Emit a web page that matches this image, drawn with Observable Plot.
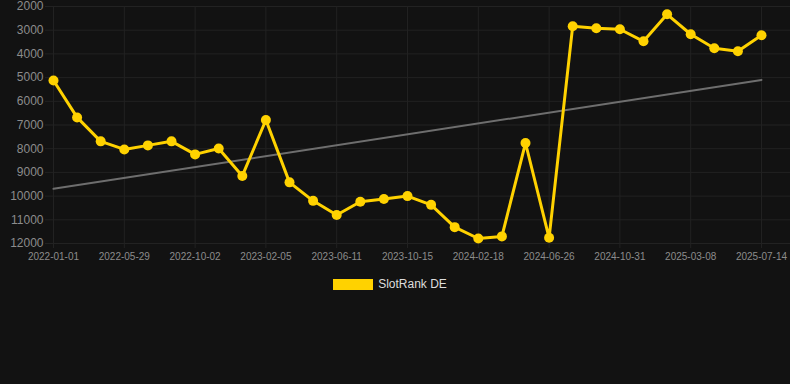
<!DOCTYPE html>
<html><head><meta charset="utf-8">
<script src="https://cdn.jsdelivr.net/npm/d3@7"></script>
<script src="https://cdn.jsdelivr.net/npm/@observablehq/plot@0.6"></script>
<style>
html,body{margin:0;padding:0;background:#121212;}
body{width:790px;height:384px;overflow:hidden;font-family:"Liberation Sans",Arial,sans-serif;}
#legend{display:flex;justify-content:center;align-items:center;gap:5px;margin-top:12px;height:14px;color:#dddddd;font-size:12px;padding-right:10px;}
.sw{display:inline-block;width:40px;height:11px;background:#FFD200;}
</style></head>
<body>
<div id="chart"></div>
<div id="legend"><span class="sw"></span><span>SlotRank DE</span></div>
<script>
const tickLabels = ["2022-01-01","2022-05-29","2022-10-02","2023-02-05","2023-06-11","2023-10-15","2024-02-18","2024-06-26","2024-10-31","2025-03-08","2025-07-14"];
const yTicks = [2000,3000,4000,5000,6000,7000,8000,9000,10000,11000,12000];
const seriesName = "SlotRank DE";
const ranks = [5120,6680,7690,8030,7860,7690,8240,7990,9150,6790,9420,10200,10800,10240,10120,10000,10370,11310,11790,11700,7760,11760,2830,2920,2960,3470,2330,3170,3760,3890,3210];

const data = ranks.map((v, i) => ({i, v}));
const tickIdx = tickLabels.map((_, k) => k * 3);
const yellow = "#FFD200";
const grid = "#222222";

const chart = Plot.plot({
  width: 790,
  height: 265,
  marginLeft: 45,
  marginRight: 0,
  marginTop: 6,
  marginBottom: 22,
  style: {background: "#121212", fontFamily: "'Liberation Sans', Arial, sans-serif"},
  x: {type: "linear", domain: [-0.339, 31.229], label: null},
  y: {domain: [2000, 12000], reverse: true, label: null},
  marks: [
    Plot.gridY(yTicks, {stroke: grid, strokeOpacity: 1, strokeWidth: 1}),
    Plot.gridX(tickIdx, {stroke: grid, strokeOpacity: 1, strokeWidth: 1}),
    Plot.axisY(yTicks, {tickSize: 0, tickPadding: 2, fontSize: 12, fill: "#8c8c8c", tickFormat: d => String(d)}),
    Plot.axisX(tickIdx, {tickSize: 5, tickPadding: 4, stroke: grid, fontSize: 10, fill: "#8c8c8c", tickFormat: i => tickLabels[Math.round(i / 3)]}),
    Plot.linearRegressionY(data, {x: "i", y: "v", ci: 0, stroke: "#6e6e6e", strokeWidth: 2}),
    Plot.line(data, {x: "i", y: "v", stroke: yellow, strokeWidth: 3}),
    Plot.dot(data, {x: "i", y: "v", r: 5, fill: yellow, stroke: "none"})
  ]
});
document.getElementById("chart").appendChild(chart);
</script>
</body></html>
